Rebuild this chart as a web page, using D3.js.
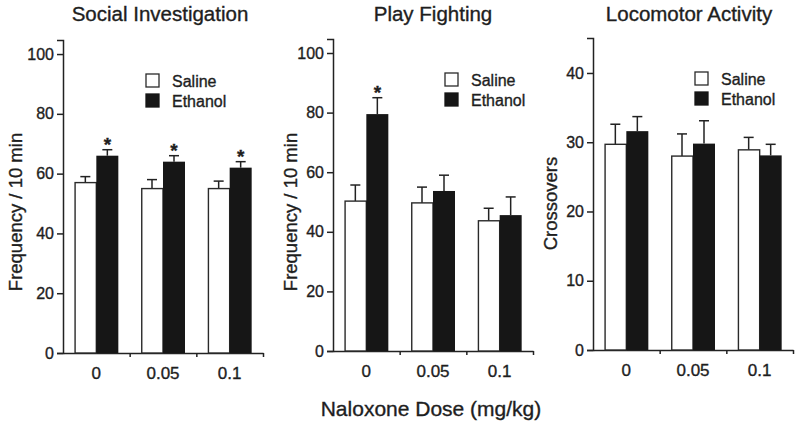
<!DOCTYPE html>
<html>
<head>
<meta charset="utf-8">
<script src="https://cdn.jsdelivr.net/npm/d3@7"></script>
<style>
  html, body { margin: 0; padding: 0; background: #fff; }
  svg { display: block; }
  text { font-family: "Liberation Sans", Arial, Helvetica, sans-serif; fill: #1e1e1e; stroke: #1e1e1e; stroke-width: 0.35px; }
</style>
</head>
<body>
<svg id="chart" width="800" height="429"></svg>
<script>
// ---- Data ----
const categories = ["0", "0.05", "0.1"];
const seriesNames = ["Saline", "Ethanol"];

const socialSaline = [57, 55, 55];
const socialSalineErr = [2, 3, 2.5];
const socialEthanol = [66, 64, 62];
const socialEthanolErr = [2, 2, 2];
const socialSig = [true, true, true];

const playSaline = [50.3, 49.7, 43.7];
const playSalineErr = [5.4, 5.3, 4.2];
const playEthanol = [79.5, 53.7, 45.6];
const playEthanolErr = [5.5, 5.3, 6.1];
const playSig = [true, false, false];

const locoSaline = [29.7, 28, 28.9];
const locoSalineErr = [2.9, 3.2, 1.8];
const locoEthanol = [31.6, 29.8, 28.1];
const locoEthanolErr = [2.1, 3.3, 1.6];
const locoSig = [false, false, false];

const freqTicks = [0, 20, 40, 60, 80, 100];
const crossTicks = [0, 10, 20, 30, 40];

const titles = ["Social Investigation", "Play Fighting", "Locomotor Activity"];
const yTitles = ["Frequency / 10 min", "Frequency / 10 min", "Crossovers"];
const xTitle = "Naloxone Dose (mg/kg)";

// ---- Panels (built from arrays above) ----
const panels = [
  { title: titles[0], yTitle: yTitles[0], saline: socialSaline, salineErr: socialSalineErr,
    ethanol: socialEthanol, ethanolErr: socialEthanolErr, sig: socialSig, ticks: freqTicks,
    yMax: 104.7, x0: 63, yZero: 353, yTop: 40, titleX: 160, yTitleX: 22, yTitleY: 212,
    legX: 146, legY: 74 },
  { title: titles[1], yTitle: yTitles[1], saline: playSaline, salineErr: playSalineErr,
    ethanol: playEthanol, ethanolErr: playEthanolErr, sig: playSig, ticks: freqTicks,
    yMax: 104.7, x0: 333, yZero: 351, yTop: 39, titleX: 433, yTitleX: 297, yTitleY: 212,
    legX: 445, legY: 73 },
  { title: titles[2], yTitle: yTitles[2], saline: locoSaline, salineErr: locoSalineErr,
    ethanol: locoEthanol, ethanolErr: locoEthanolErr, sig: locoSig, ticks: crossTicks,
    yMax: 45.05, x0: 593, yZero: 350, yTop: 38, titleX: 689, yTitleX: 557, yTitleY: 203.5,
    legX: 695, legY: 72 }
];

const svg = d3.select("#chart");
const ink = "#222";
const plotW = 200;

panels.forEach(p => {
  const g = svg.append("g");

  const y = d3.scaleLinear().domain([0, p.yMax]).range([p.yZero, p.yTop]);
  const x = d3.scaleBand().domain(categories).range([p.x0, p.x0 + plotW])
    .paddingInner(0.34).paddingOuter(0.17);
  const xs = d3.scaleBand().domain(seriesNames).range([0, x.bandwidth()]);

  // y axis
  const yAxis = d3.axisLeft(y).tickValues(p.ticks).tickSize(6).tickPadding(3).tickFormat(d3.format("d"));
  const ya = g.append("g").attr("transform", `translate(${p.x0},0)`).call(yAxis);
  ya.select(".domain").attr("stroke", ink).attr("stroke-width", 1.5);
  ya.selectAll(".tick line").attr("stroke", ink).attr("stroke-width", 1.5);
  ya.selectAll(".tick text").style("font-size", "16px");

  // x axis: boundary tick marks
  const xb = d3.scaleLinear().domain([0, categories.length]).range([p.x0, p.x0 + plotW]);
  const xTickAxis = d3.axisBottom(xb).tickValues([1, 2, 3]).tickSize(4).tickSizeOuter(0).tickFormat("");
  const xa = g.append("g").attr("transform", `translate(0,${p.yZero})`).call(xTickAxis);
  xa.select(".domain").attr("stroke", ink).attr("stroke-width", 1.5);
  xa.selectAll(".tick line").attr("stroke", ink).attr("stroke-width", 1.5);

  // x axis labels
  const xLab = d3.axisBottom(x).tickSize(0).tickPadding(14);
  const xl = g.append("g").attr("transform", `translate(0,${p.yZero})`).call(xLab);
  xl.select(".domain").remove();
  xl.selectAll(".tick text").style("font-size", "17px");

  // bars
  const rows = categories.map((c, i) => ({
    cat: c, i,
    vals: [
      { s: "Saline", v: p.saline[i], e: p.salineErr[i] },
      { s: "Ethanol", v: p.ethanol[i], e: p.ethanolErr[i] }
    ]
  }));

  const grp = g.selectAll(".grp").data(rows).enter().append("g")
    .attr("transform", d => `translate(${x(d.cat)},0)`);

  // error bars (upward only)
  grp.selectAll(".err").data(d => d.vals).enter().append("g").each(function(d) {
    const cx = xs(d.s) + xs.bandwidth() / 2;
    const sel = d3.select(this);
    sel.append("line").attr("x1", cx).attr("x2", cx)
      .attr("y1", y(d.v)).attr("y2", y(d.v + d.e))
      .attr("stroke", ink).attr("stroke-width", 1.5);
    sel.append("line").attr("x1", cx - 5).attr("x2", cx + 5)
      .attr("y1", y(d.v + d.e)).attr("y2", y(d.v + d.e))
      .attr("stroke", ink).attr("stroke-width", 1.5);
  });

  grp.selectAll(".bar").data(d => d.vals).enter().append("rect")
    .attr("x", d => xs(d.s) + (d.s === "Saline" ? 0.75 : 0))
    .attr("width", d => xs.bandwidth() - (d.s === "Saline" ? 0.75 : 0))
    .attr("y", d => y(d.v))
    .attr("height", d => y(0) - y(d.v))
    .attr("fill", d => d.s === "Saline" ? "#fff" : "#161616")
    .attr("stroke", d => d.s === "Saline" ? "#2a2a2a" : "none")
    .attr("stroke-width", 1.4);

  // significance asterisks
  grp.filter(d => p.sig[d.i]).append("text")
    .attr("x", xs("Ethanol") + xs.bandwidth() / 2)
    .attr("y", d => y(d.vals[1].v + d.vals[1].e) + 1)
    .attr("text-anchor", "middle")
    .style("font-size", "19px").style("font-weight", "bold")
    .text("*");

  // legend
  const leg = g.append("g");
  seriesNames.forEach((s, k) => {
    const ly = p.legY + k * 20;
    leg.append("rect").attr("x", p.legX).attr("y", ly).attr("width", 13).attr("height", 13)
      .attr("fill", s === "Saline" ? "#fff" : "#161616")
      .attr("stroke", s === "Saline" ? "#2a2a2a" : "#161616").attr("stroke-width", 1.3);
    leg.append("text").attr("x", p.legX + 26).attr("y", ly + 13)
      .style("font-size", "16px").text(s);
  });

  // titles
  g.append("text").attr("x", p.titleX).attr("y", 21).attr("text-anchor", "middle")
    .style("font-size", "20.5px").text(p.title);

  g.append("text")
    .attr("transform", `translate(${p.yTitleX},${p.yTitleY}) rotate(-90)`)
    .attr("text-anchor", "middle")
    .style("font-size", "18.5px").text(p.yTitle);
});

svg.append("text").attr("x", 431).attr("y", 416).attr("text-anchor", "middle")
  .style("font-size", "21px").text(xTitle);
</script>
</body>
</html>
